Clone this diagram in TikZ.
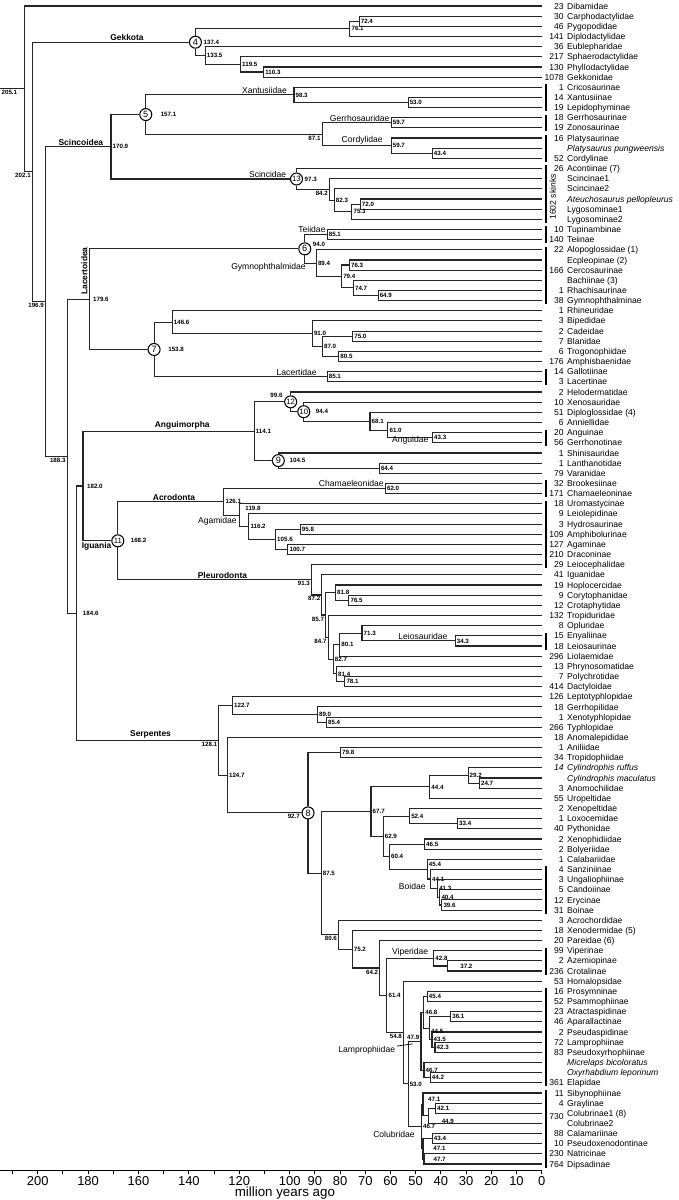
\documentclass[tikz,border=0pt]{standalone}
\usepackage{fontspec}
\setmainfont{Liberation Sans}
\usetikzlibrary{calc}
\usetikzlibrary{positioning}

% join two children at a given age (in million years)
\newcommand\tjoin[4]{%
  \path let \p1=($(#3)!.5!(#4)$), \p2=(#2,0) in coordinate (#1) at (\x2,\y1);
  \draw[br] (#1) |- (#3);
  \draw[br] (#1) |- (#4);}
% same, with a numbered ring on the node
\newcommand\tjoinm[5]{%
  \path let \p1=($(#3)!.5!(#4)$), \p2=(#2,0) in node[ring] (#1) at (\x2,\y1) {#5};
  \draw[br] (#1) |- (#3);
  \draw[br] (#1) |- (#4);}

\begin{document}
\begin{tikzpicture}[x=-0.063cm,y=-0.254cm,
  br/.style={line width=0.8pt,black!85},
  bar/.style={line width=1.2pt},
  ring/.style={circle,draw,fill=white,line width=0.75pt,minimum size=0.3cm,inner sep=0pt,font=\fontsize{6.5}{7}\selectfont},
  taxon/.style={anchor=base west,xshift=0.6325cm,yshift=-0.077cm,inner sep=0pt,font=\fontsize{6.1}{7}\selectfont},
  cnt/.style={anchor=base east,xshift=0.5575cm,yshift=-0.077cm,inner sep=0pt,font=\fontsize{6.1}{7}\selectfont},
  agel/.style={inner sep=1pt,font=\fontsize{4.4}{5}\selectfont\bfseries},
  grp/.style={inner sep=1pt,font=\fontsize{6}{7}\selectfont\bfseries},
  fam/.style={inner sep=1pt,font=\fontsize{6.1}{7}\selectfont},
  axnum/.style={anchor=base,inner sep=0pt,font=\fontsize{9.2}{11}\selectfont}]

\useasboundingbox (214.96,0.409) rectangle (-54.48,118.54);

% tips
\foreach \ix/\nsp/\nm in {1/23/Dibamidae, 2/30/Carphodactylidae, 3/46/Pygopodidae,
  4/141/Diplodactylidae, 5/36/Eublepharidae, 6/217/Sphaerodactylidae,
  7/130/Phyllodactylidae, 8/1078/Gekkonidae, 9/1/Cricosaurinae, 10/14/Xantusiinae,
  11/19/Lepidophyminae, 12/18/Gerrhosaurinae, 13/19/Zonosaurinae, 14/16/Platysaurinae,
  15//{\itshape Platysaurus pungweensis}, 16/52/Cordylinae, 17/26/Acontiinae (7),
  18//Scincinae1, 19//Scincinae2, 20//{\itshape Ateuchosaurus pellopleurus},
  21//Lygosominae1, 22//Lygosominae2, 23/10/Tupinambinae, 24/140/Teiinae,
  25/22/Alopoglossidae (1), 26//Ecpleopinae (2), 27/166/Cercosaurinae,
  28//Bachiinae (3), 29/1/Rhachisaurinae, 30/38/Gymnophthalminae, 31/1/Rhineuridae,
  32/3/Bipedidae, 33/2/Cadeidae, 34/7/Blanidae, 35/6/Trogonophiidae,
  36/176/Amphisbaenidae, 37/14/Gallotiinae, 38/3/Lacertinae, 39/2/Helodermatidae,
  40/10/Xenosauridae, 41/51/Diploglossidae (4), 42/6/Anniellidae, 43/20/Anguinae,
  44/56/Gerrhonotinae, 45/1/Shinisauridae, 46/1/Lanthanotidae, 47/79/Varanidae,
  48/32/Brookesiinae, 49/171/Chamaeleoninae, 50/18/Uromastycinae, 51/9/Leiolepidinae,
  52/3/Hydrosaurinae, 53/109/Amphibolurinae, 54/127/Agaminae, 55/210/Draconinae,
  56/29/Leiocephalidae, 57/41/Iguanidae, 58/19/Hoplocercidae, 59/9/Corytophanidae,
  60/12/Crotaphytidae, 61/132/Tropiduridae, 62/8/Opluridae, 63/15/Enyaliinae,
  64/18/Leiosaurinae, 65/296/Liolaemidae, 66/13/Phrynosomatidae, 67/7/Polychrotidae,
  68/414/Dactyloidae, 69/126/Leptotyphlopidae, 70/18/Gerrhopilidae,
  71/1/Xenotyphlopidae, 72/266/Typhlopidae, 73/18/Anomalepididae, 74/1/Aniliidae,
  75/34/Tropidophiidae, 76/{\itshape 14}/{\itshape Cylindrophis ruffus},
  77//{\itshape Cylindrophis maculatus}, 78/3/Anomochilidae, 79/55/Uropeltidae,
  80/2/Xenopeltidae, 81/1/Loxocemidae, 82/40/Pythonidae, 83/2/Xenophidiidae,
  84/2/Bolyeriidae, 85/1/Calabariidae, 86/4/Sanziniinae, 87/3/Ungaliophiinae,
  88/5/Candoiinae, 89/12/Erycinae, 90/31/Boinae, 91/3/Acrochordidae,
  92/18/Xenodermidae (5), 93/20/Pareidae (6), 94/99/Viperinae, 95/2/Azemiopinae,
  96/236/Crotalinae, 97/53/Homalopsidae, 98/16/Prosymninae, 99/52/Psammophiinae,
  100/23/Atractaspidinae, 101/46/Aparallactinae, 102/2/Pseudaspidinae,
  103/72/Lamprophiinae, 104/83/Pseudoxyrhophiinae, 105//{\itshape Micrelaps bicoloratus},
  106//{\itshape Oxyrhabdium leporinum}, 107/361/Elapidae, 108/11/Sibynophiinae,
  109/4/Graylinae, 110//Colubrinae1 (8), 111//Colubrinae2, 112/88/Calamariinae,
  113/10/Pseudoxenodontinae, 114/230/Natricinae, 115/764/Dipsadinae}{
  \coordinate (t\ix) at (0,\ix);
  \node[taxon] (s\ix) at (t\ix) {\nm};
  \node[cnt] (k\ix) at (t\ix) {\nsp};
}
\node[cnt] (k730) at ($(t110)!.3!(t111)$) {730};
\node[rotate=90,inner sep=0pt,font=\fontsize{6.1}{7}\selectfont] (skinks) at ($(t20)+(-4.48,-0.2)$) {1602 skinks};

% Gekkota
\tjoin{n724}{72.4}{t2}{t3}
\tjoin{n761}{76.1}{n724}{t4}
\tjoin{n1103}{110.3}{t7}{t8}
\tjoin{n1195}{119.5}{t6}{n1103}
\tjoin{n1335}{133.5}{t5}{n1195}
\tjoinm{m4}{137.4}{n761}{n1335}{4}
% Scincoidea
\tjoin{n530x}{53.0}{t10}{t11}
\tjoin{n983}{98.3}{t9}{n530x}
\tjoin{n597g}{59.7}{t12}{t13}
\tjoin{n434c}{43.4}{t15}{t16}
\tjoin{n597c}{59.7}{t14}{n434c}
\tjoin{n871}{87.1}{n597g}{n597c}
\tjoinm{m5}{157.1}{n983}{n871}{5}
\tjoin{n720}{72.0}{t20}{t21}
\tjoin{n753}{75.3}{n720}{t22}
\tjoin{n823}{82.3}{t19}{n753}
\tjoin{n842}{84.2}{t18}{n823}
\tjoinm{m13}{97.3}{t17}{n842}{\fontsize{5.5}{6}\selectfont 13}
\tjoin{n1709}{170.9}{m5}{m13}
% Lacertoidea
\tjoin{n851t}{85.1}{t23}{t24}
\tjoin{n649}{64.9}{t29}{t30}
\tjoin{n747}{74.7}{t28}{n649}
\tjoin{n763}{76.3}{t26}{t27}
\tjoin{n794}{79.4}{n763}{n747}
\tjoin{n894}{89.4}{t25}{n794}
\tjoinm{m6}{94.0}{n851t}{n894}{6}
\tjoin{n750}{75.0}{t33}{t34}
\tjoin{n805}{80.5}{t35}{t36}
\tjoin{n870}{87.0}{n750}{n805}
\tjoin{n910}{91.0}{t32}{n870}
\tjoin{n1466}{146.6}{t31}{n910}
\tjoin{n851l}{85.1}{t37}{t38}
\tjoinm{m7}{153.8}{n1466}{n851l}{7}
\tjoin{n1796}{179.6}{m6}{m7}
% Anguimorpha
\tjoin{n433}{43.3}{t43}{t44}
\tjoin{n610}{61.0}{t42}{n433}
\tjoin{n681}{68.1}{t41}{n610}
\tjoinm{m10}{94.4}{t40}{n681}{\fontsize{5.5}{6}\selectfont 10}
\tjoinm{m12}{99.6}{t39}{m10}{\fontsize{5.5}{6}\selectfont 12}
\tjoin{n644}{64.4}{t46}{t47}
\tjoinm{m9}{104.5}{t45}{n644}{9}
\tjoin{n1141}{114.1}{m12}{m9}
% Acrodonta
\tjoin{n620}{62.0}{t48}{t49}
\tjoin{n958}{95.8}{t52}{t53}
\tjoin{n1007}{100.7}{t54}{t55}
\tjoin{n1056}{105.6}{n958}{n1007}
\tjoin{n1162}{116.2}{t51}{n1056}
\tjoin{n1198}{119.8}{t50}{n1162}
\tjoin{n1261}{126.1}{n620}{n1198}
% Pleurodonta
\tjoin{n765}{76.5}{t59}{t60}
\tjoin{n818}{81.8}{t58}{n765}
\tjoin{n343}{34.3}{t63}{t64}
\tjoin{n713}{71.3}{t62}{n343}
\tjoin{n801}{80.1}{n713}{t65}
\tjoin{n781}{78.1}{t67}{t68}
\tjoin{n814}{81.4}{t66}{n781}
\tjoin{n827}{82.7}{n801}{n814}
\tjoin{n847}{84.7}{t61}{n827}
\tjoin{n857}{85.7}{n818}{n847}
\tjoin{n872}{87.2}{t57}{n857}
\tjoin{n913}{91.3}{t56}{n872}
\tjoinm{m11}{168.2}{n1261}{n913}{\fontsize{5.5}{6}\selectfont 11}
\tjoin{n1820}{182.0}{n1141}{m11}
% Serpentes
\tjoin{n854}{85.4}{t71}{t72}
\tjoin{n890}{89.0}{t70}{n854}
\tjoin{n1227}{122.7}{t69}{n890}
\tjoin{n798}{79.8}{t74}{t75}
\tjoin{n247}{24.7}{t77}{t78}
\tjoin{n292}{29.2}{t76}{n247}
\tjoin{n444}{44.4}{n292}{t79}
\tjoin{n334}{33.4}{t81}{t82}
\tjoin{n524}{52.4}{t80}{n334}
\tjoin{n465}{46.5}{t83}{t84}
\tjoin{n396}{39.6}{t89}{t90}
\tjoin{n404}{40.4}{t88}{n396}
\tjoin{n413}{41.3}{t87}{n404}
\tjoin{n441}{44.1}{t86}{n413}
\tjoin{n454b}{45.4}{t85}{n441}
\tjoin{n604}{60.4}{n465}{n454b}
\tjoin{n629}{62.9}{n524}{n604}
\tjoin{n677}{67.7}{n444}{n629}
\tjoin{n372}{37.2}{t95}{t96}
\tjoin{n428}{42.8}{t94}{n372}
\tjoin{n454l}{45.4}{t98}{t99}
\tjoin{n361}{36.1}{t100}{t101}
\tjoin{n423}{42.3}{t103}{t104}
\tjoin{n435}{43.5}{t102}{n423}
\tjoin{n445}{44.5}{n361}{n435}
\tjoin{n468}{46.8}{n454l}{n445}
\tjoin{n442}{44.2}{t106}{t107}
\tjoin{n467e}{46.7}{t105}{n442}
\tjoin{n479}{47.9}{n468}{n467e}
\tjoin{n421}{42.1}{t109}{t110}
\tjoin{n449}{44.9}{n421}{t111}
\tjoin{n471a}{47.1}{t108}{n449}
\tjoin{n434k}{43.4}{t112}{t113}
\tjoin{n467n}{46.7}{t114}{t115}
\tjoin{n471b}{47.1}{n434k}{n467n}
\tjoin{ncol}{47.7}{n471a}{n471b}
\tjoin{n530s}{53.0}{n479}{ncol}
\tjoin{n548}{54.8}{t97}{n530s}
\tjoin{n614}{61.4}{n428}{n548}
\tjoin{n642}{64.2}{t93}{n614}
\tjoin{n752}{75.2}{t92}{n642}
\tjoin{n806}{80.6}{t91}{n752}
\tjoin{n875}{87.5}{n677}{n806}
\tjoinm{m8}{92.7}{n798}{n875}{8}
\tjoin{n1247}{124.7}{t73}{m8}
\tjoin{n1281}{128.1}{n1227}{n1247}
% backbone
\tjoin{n1846}{184.6}{n1820}{n1281}
\tjoin{n1883}{188.3}{n1796}{n1846}
\tjoin{n1969}{196.9}{n1709}{n1883}
\tjoin{n2021}{202.1}{m4}{n1969}
\tjoin{n2051}{205.1}{t1}{n2021}
\coordinate (lft) at (214.96,0);
\draw[br] (lft |- n2051) -- (n2051);

% node ages
\foreach \nd/\val in {n724/72.4, n761/76.1, n1335/133.5, n1195/119.5, n1103/110.3,
  n983/98.3, n530x/53.0, n597g/59.7, n597c/59.7, n434c/43.4, n823/82.3, n720/72.0,
  n753/75.3, n851t/85.1, n894/89.4, n763/76.3, n794/79.4, n747/74.7, n649/64.9,
  n1466/146.6, n910/91.0, n750/75.0, n870/87.0, n805/80.5, n851l/85.1, n681/68.1,
  n610/61.0, n433/43.3, n1141/114.1, n644/64.4, n1261/126.1, n620/62.0, n1162/116.2,
  n958/95.8, n1056/105.6, n1007/100.7, n818/81.8, n765/76.5, n713/71.3, n343/34.3,
  n801/80.1, n827/82.7, n814/81.4, n781/78.1, n1227/122.7, n890/89.0, n854/85.4,
  n1247/124.7, n798/79.8, n875/87.5, n677/67.7, n444/44.4, n292/29.2, n247/24.7,
  n629/62.9, n524/52.4, n334/33.4, n604/60.4, n465/46.5, n441/44.1, n413/41.3,
  n404/40.4, n396/39.6, n752/75.2, n428/42.8, n614/61.4, n530s/53.0, n454l/45.4,
  n468/46.8, n361/36.1, n435/43.5, n423/42.3, n467e/46.7, n442/44.2, n421/42.1,
  n434k/43.4, n1709/170.9, ncol/46.7}
  \node[agel,right] (a\nd) at (\nd) {\val};
\foreach \nd/\val in {n871/87.1, n842/84.2, n1883/188.3, n1969/196.9, n2021/202.1,
  n913/91.3, n872/87.2, n857/85.7, n847/84.7, n1281/128.1, n806/80.6, n642/64.2,
  n548/54.8}
  \node[agel,below left] (a\nd) at (\nd) {\val};
\node[agel,below left,xshift=-0.15cm] (an2051) at (n2051) {205.1};
\node[agel,above left] (an479) at (n479) {47.9};
\node[agel,right,xshift=0.06cm] (an1796) at (n1796) {179.6};
\node[agel,right,xshift=0.12cm] (an1846) at (n1846) {184.6};
\node[agel,right,xshift=0.06cm] (an1820) at (n1820) {182.0};
\node[agel,right,xshift=0.1cm,yshift=0.17cm] (an1198) at (n1198) {119.8};
\node[agel,right,yshift=0.12cm] (an454b) at (n454b) {45.4};
\node[agel,right,xshift=0.27cm] (an372) at (n372) {37.2};
\node[agel,right,yshift=-0.09cm] (an445) at (n445) {44.5};
\node[agel,right,xshift=0.09cm,yshift=0.13cm] (an471a) at (n471a) {47.1};
\node[agel,right,xshift=0.29cm,yshift=-0.13cm] (an449) at (n449) {44.9};
\node[agel,right,xshift=0.22cm] (an471b) at (n471b) {47.1};
\node[agel,right,xshift=0.2cm] (an467n) at (n467n) {47.7};
% ages beside the rings
\node[agel,right] (am4) at (m4.east) {137.4};
\node[agel,right,xshift=0.17cm] (am5) at (m5.east) {157.1};
\node[agel,right] (am13) at (m13.east) {97.3};
\node[agel,right,yshift=0.1cm] (am6) at (m6.east) {94.0};
\node[agel,right,xshift=0.15cm] (am7) at (m7.east) {153.8};
\node[agel,left,yshift=0.15cm] (am12) at (m12.west) {99.6};
\node[agel,right,xshift=0.1cm] (am10) at (m10.east) {94.4};
\node[agel,right,xshift=0.08cm] (am9) at (m9.east) {104.5};
\node[agel,right,xshift=0.12cm] (am11) at (m11.east) {168.2};
\node[agel,below left] (am8) at (m8.west) {92.7};

% major clades
\node[grp,above] (gekkota) at ($(n2021|-m4)!.58!(m4)$) {Gekkota};
\node[grp,above] (scincoidea) at ($(n1969|-n1709)!.54!(n1709)$) {Scincoidea};
\node[grp,rotate=90,anchor=south] (lacertoidea) at ($(n1796)+(0,-2.77)$) {Lacertoidea};
\node[grp,above] (anguimorpha) at ($(n1820|-n1141)!.58!(n1141)$) {Anguimorpha};
\node[grp,below] (iguania) at ($(n1820|-m11)!.39!(m11)$) {Iguania};
\node[grp,above] (acrodonta) at ($(m11|-n1261)!.53!(n1261)$) {Acrodonta};
\node[grp,above] (pleurodonta) at ($(m11|-n913)!.54!(n913)$) {Pleurodonta};
\node[grp,above] (serpentes) at ($(n1846|-n1281)!.52!(n1281)$) {Serpentes};

% families
\node[fam,above left,xshift=-0.135cm] (xantusiidae) at (n983) {Xantusiidae};
\node[fam,above left] (gerrhosauridae) at (n597g) {Gerrhosauridae};
\node[fam,above left,xshift=-0.17cm] (cordylidae) at (n597c) {Cordylidae};
\node[fam,above left,xshift=-0.05cm] (scincidae) at (m13.west) {Scincidae};
\node[fam,above left] (teiidae) at (n851t) {Teiidae};
\node[fam,anchor=east] (gymnophthalmidae) at ($(n894)+(3.6,0.4)$) {Gymnophthalmidae};
\node[fam,above left,xshift=-0.22cm] (lacertidae) at (n851l) {Lacertidae};
\node[fam,anchor=west] (anguidae) at ($(n610)+(-1.03,1.05)$) {Anguidae};
\node[fam,above left] (chamaeleonidae) at (n620) {Chamaeleonidae};
\node[fam,anchor=east] (agamidae) at ($(n1198)+(0.55,0.57)$) {Agamidae};
\node[fam,above left,xshift=-0.15cm] (leiosauridae) at (n343) {Leiosauridae};
\node[fam,anchor=east] (boidae) at ($(n441)+(1.27,0.75)$) {Boidae};
\node[fam,above left,xshift=-0.1cm] (viperidae) at (n428) {Viperidae};
\node[fam,anchor=east] (colubridae) at ($(ncol)+(2.0,0.73)$) {Colubridae};
\coordinate (lp) at ($(n479)+(3.3,0.26)$);
\node[fam,anchor=east] (lamprophiidae) at ($(lp)+(6.3,0.65)$) {Lamprophiidae};
\draw[line width=0.5pt] (lamprophiidae) -- (lp);

% brackets
\foreach \a/\b in {9/11,12/13,14/16,17/22,23/24,25/30,37/38,43/44,48/49,50/56,
  63/64,86/90,94/96,98/107,108/115}
  \draw[bar] ($(t\a)+(-1.7,-0.3)$) -- ($(t\b)+(-1.7,0.35)$);

% time axis
\coordinate (axL) at (214.96,115.66);
\coordinate (axR) at (0,115.66);
\draw[line width=0.6pt] (axL) -- (axR);
\foreach \a in {0,10,...,210}
  \draw[line width=0.6pt] (\a,115.66) -- (\a,115.96);
\foreach \a in {200,180,160,140,120,100,90,80,70,60,50,40,30,20,10,0}
  \node[axnum] (y\a) at (\a,117.13) {\a};
\node[axnum,font=\fontsize{9.5}{11}\selectfont] (xlab) at (101.9,118.22) {million years ago};
\end{tikzpicture}
\end{document}
